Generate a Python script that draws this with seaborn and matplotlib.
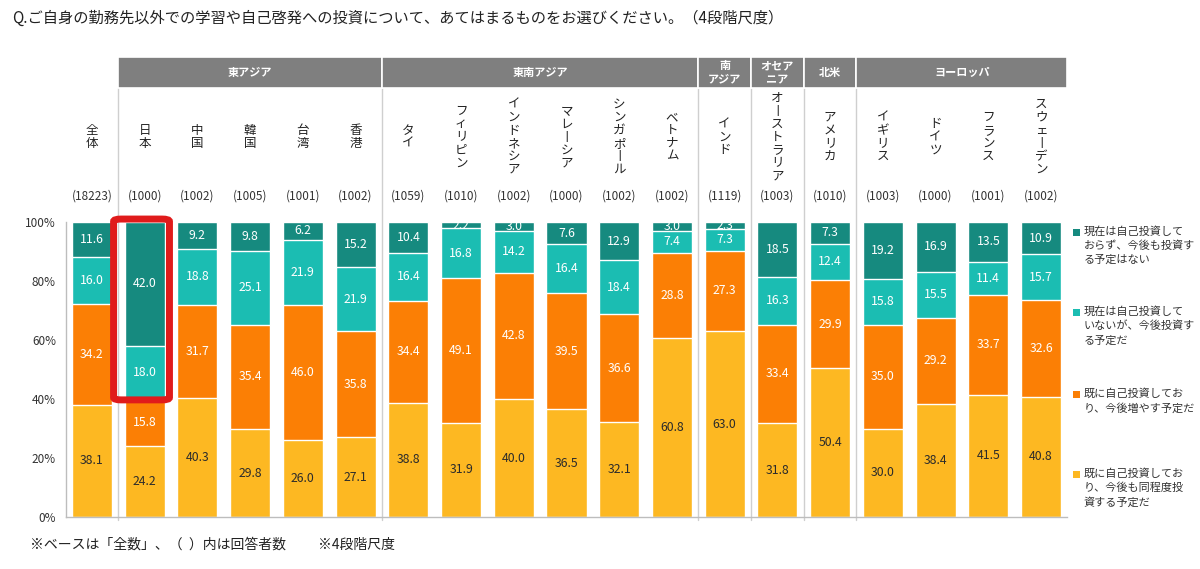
import numpy as np
import pandas as pd
import matplotlib
matplotlib.use("Agg")
import matplotlib.pyplot as plt
import matplotlib.transforms as mtransforms
from matplotlib.patches import FancyBboxPatch, Rectangle
import seaborn as sns

# Data (bottom -> top segments)
countries = ["全体", "日本", "中国", "韓国", "台湾", "香港",
             "タイ", "フィリピン", "インドネシア", "マレーシア", "シンガポール", "ベトナム",
             "インド", "オーストラリア", "アメリカ",
             "イギリス", "ドイツ", "フランス", "スウェーデン"]
counts = [18223, 1000, 1002, 1005, 1001, 1002, 1059, 1010, 1002, 1000, 1002, 1002,
          1119, 1003, 1010, 1003, 1000, 1001, 1002]

same_level = [38.1, 24.2, 40.3, 29.8, 26.0, 27.1, 38.8, 31.9, 40.0, 36.5, 32.1, 60.8,
              63.0, 31.8, 50.4, 30.0, 38.4, 41.5, 40.8]
increase = [34.2, 15.8, 31.7, 35.4, 46.0, 35.8, 34.4, 49.1, 42.8, 39.5, 36.6, 28.8,
            27.3, 33.4, 29.9, 35.0, 29.2, 33.7, 32.6]
will_start = [16.0, 18.0, 18.8, 25.1, 21.9, 21.9, 16.4, 16.8, 14.2, 16.4, 18.4, 7.4,
              7.3, 16.3, 12.4, 15.8, 15.5, 11.4, 15.7]
no_plan = [11.6, 42.0, 9.2, 9.8, 6.2, 15.2, 10.4, 2.2, 3.0, 7.6, 12.9, 3.0,
           2.3, 18.5, 7.3, 19.2, 16.9, 13.5, 10.9]

series_names = ["既に自己投資しており、今後も同程度投資する予定だ",
                "既に自己投資しており、今後増やす予定だ",
                "現在は自己投資していないが、今後投資する予定だ",
                "現在は自己投資しておらず、今後も投資する予定はない"]
legend_labels = ["現在は自己投資して\nおらず、今後も投資す\nる予定はない",
                 "現在は自己投資して\nいないが、今後投資す\nる予定だ",
                 "既に自己投資してお\nり、今後増やす予定だ",
                 "既に自己投資してお\nり、今後も同程度投\n資する予定だ"]

groups = ["東アジア", "東南アジア", "南\nアジア", "オセア\nニア", "北米", "ヨーロッパ"]
group_sizes = [5, 6, 1, 1, 1, 4]

colors = ["#fdb822", "#fb7f05", "#1bbdb2", "#168a7f"]
label_colors = ["#2b2b2b", "white", "white", "white"]

df = pd.DataFrame({"country": countries,
                   series_names[0]: same_level,
                   series_names[1]: increase,
                   series_names[2]: will_start,
                   series_names[3]: no_plan})
cum = df[series_names].cumsum(axis=1)

sns.set_style("white")
plt.rcParams["font.family"] = ["Noto Sans CJK JP", "DejaVu Sans"]

W, H = 1200, 569
fig = plt.figure(figsize=(12, 5.69), dpi=100)
ax_left, ax_right, ax_top, ax_bot = 65.6, 1067.4, 222, 517
ax = fig.add_axes([ax_left / W, (H - ax_bot) / H, (ax_right - ax_left) / W, (ax_bot - ax_top) / H])

# Stacked bars: draw cumulative heights from top layer down
for i in range(3, -1, -1):
    sns.barplot(x=df["country"], y=cum[series_names[i]], color=colors[i], order=countries,
                width=0.76, saturation=1, ax=ax, zorder=2)

# Segment labels
for j in range(len(countries)):
    base = 0
    for i, s in enumerate(series_names):
        v = df[s].iloc[j]
        ax.text(j, base + v / 2, f"{v:.1f}", ha="center", va="center",
                fontsize=8.8, color=label_colors[i], zorder=4)
        base += v

ax.set_xlim(-0.5, len(countries) - 0.5)
ax.set_ylim(0, 100)
ax.set_xlabel("")
ax.set_ylabel("")
ax.set_yticks(range(0, 101, 20))
ax.set_yticklabels([f"{t}%" for t in range(0, 101, 20)], fontsize=8.5, color="#333333")
ax.set_xticks(np.arange(-0.5, len(countries), 1))
ax.set_xticklabels([])
ax.tick_params(axis="both", direction="out", length=4, color="#9a9a9a", width=0.8, pad=3)
for side in ["top", "right"]:
    ax.spines[side].set_visible(False)
for side in ["left", "bottom"]:
    ax.spines[side].set_color("#bdbdbd")
    ax.spines[side].set_linewidth(1)

trans = mtransforms.blended_transform_factory(ax.transData, fig.transFigure)

def fy(py):
    return (H - py) / H

# Group header boxes and separators
start = 0.5
for g, n in zip(groups, group_sizes):
    end = start + n
    ax.add_patch(Rectangle((start, fy(88)), n, fy(57) - fy(88), transform=trans,
                           facecolor="#7f7f7f", edgecolor="white", linewidth=1.2,
                           clip_on=False, zorder=5))
    ax.text((start + end) / 2, fy(72.5), g, transform=trans, ha="center", va="center",
            fontsize=8, color="white", fontweight="bold", linespacing=1.05, zorder=6)
    start = end

sep = 0.5
for n in group_sizes[:-1]:
    ax.plot([sep, sep], [fy(88), fy(520)], transform=trans, color="#cfcfcf",
            linewidth=1, clip_on=False, zorder=1)
    sep += n
ax.plot([sep, sep], [fy(88), fy(520)], transform=trans, color="#cfcfcf",
        linewidth=1, clip_on=False, zorder=1)

# Column labels (vertical writing) and respondent counts
for j, (c, n) in enumerate(zip(countries, counts)):
    vert = "\n".join(ch if ch != "ー" else "丨" for ch in c)
    ax.text(j, fy(137), vert, transform=trans, ha="center", va="center",
            fontsize=9, color="#222222", linespacing=1.0)
    ax.text(j, fy(196), f"({n})", transform=trans, ha="center", va="center",
            fontsize=8.5, color="#333333")

# Highlight box around Japan
ax.add_patch(FancyBboxPatch((0.41, 39.7), 1.06, 61.3,
                            boxstyle="round,pad=0,rounding_size=0.14",
                            mutation_aspect=6, facecolor="none", edgecolor="#e01b1b",
                            linewidth=5, clip_on=False, zorder=7))

# Legend
legend_tops = [232, 312, 394, 474]
for i, (lab, top) in enumerate(zip(legend_labels, legend_tops)):
    fig.patches.append(Rectangle((1073 / W, fy(top + 4)), 7 / W, 7 / H,
                                 transform=fig.transFigure, facecolor=colors[3 - i],
                                 edgecolor="none"))
    fig.text(1084 / W, fy(top - 6), lab, ha="left", va="top", fontsize=8,
             color="#333333", linespacing=1.45)

fig.text(12 / W, fy(18), "Q.ご自身の勤務先以外での学習や自己啓発への投資について、あてはまるものをお選びください。（4段階尺度）",
         ha="left", va="center", fontsize=11, color="#222222")
fig.text(30 / W, fy(545), "※ベースは「全数」、（  ）内は回答者数", ha="left", va="center",
         fontsize=10, color="#222222")
fig.text(318 / W, fy(545), "※4段階尺度", ha="left", va="center", fontsize=10, color="#222222")

fig.savefig("out.png", dpi=100, facecolor="white")
